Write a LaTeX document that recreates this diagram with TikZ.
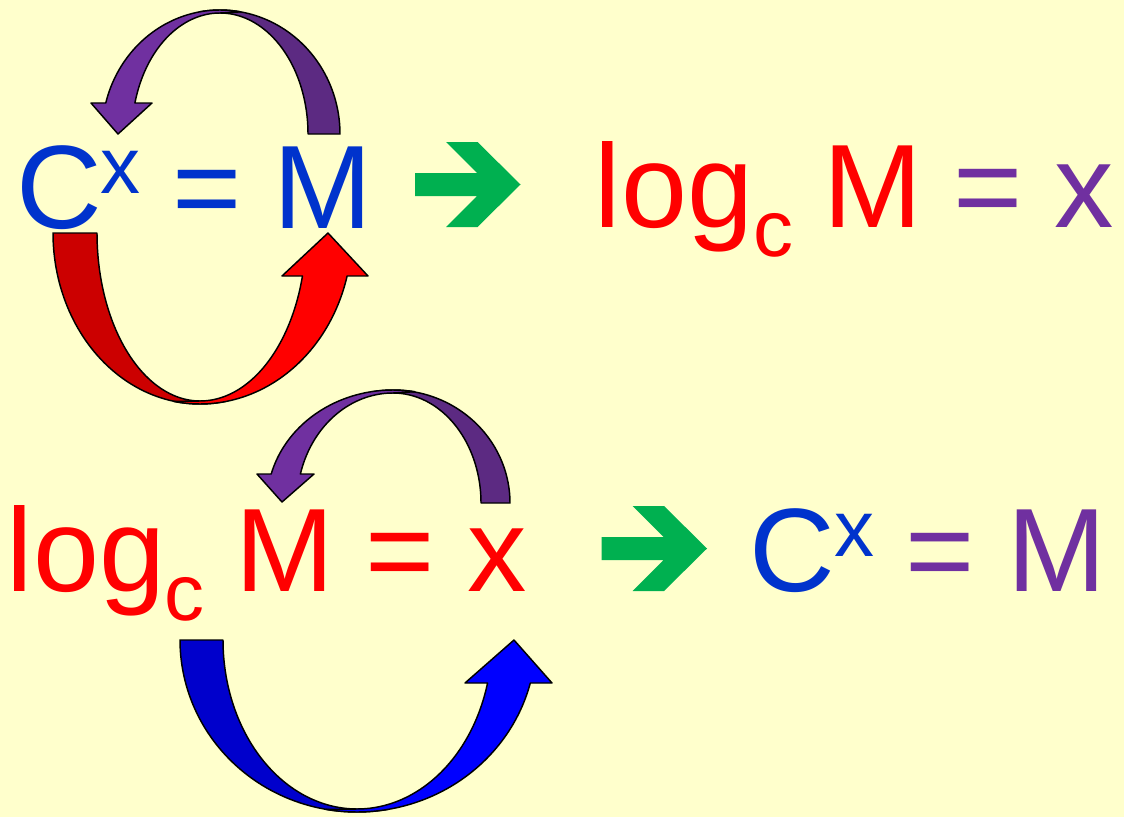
\documentclass[tikz,border=0pt]{standalone}
\usepackage{fontspec}
\setmainfont{Liberation Sans}
\definecolor{bg}{HTML}{FFFFCC}
\definecolor{tblue}{HTML}{0033CC}
\definecolor{tred}{HTML}{FF0000}
\definecolor{tpurple}{HTML}{7030A0}
\definecolor{tgreen}{HTML}{00B050}
\definecolor{purpleL}{HTML}{7030A0}
\definecolor{purpleD}{HTML}{5C2A82}
\definecolor{redD}{HTML}{CC0000}
\definecolor{redL}{HTML}{FF0000}
\definecolor{blueD}{HTML}{0000CC}
\definecolor{blueL}{HTML}{0000FF}
\begin{document}
\begin{tikzpicture}[x=0.75pt,y=-0.75pt,
  big/.style={inner sep=0pt, anchor=base, font=\fontsize{89}{100}\selectfont},
  small/.style={inner sep=0pt, anchor=base, font=\fontsize{60}{70}\selectfont},
  band/.style={draw=black, line width=1.1pt, line join=round},
  garrow/.pic={\fill[tgreen] (0,31) -- (62,31) -- (31,0) -- (62.5,0) -- (105.5,42.5) -- (62.5,85) -- (31,85) -- (62,54) -- (0,54) -- cycle;}]
\fill[bg] (0,0) rectangle (1124,817);
\useasboundingbox (0,0) rectangle (1124,817);

% ---- top row ----
\node[big, text=tblue] (C1) at (59.5,228) {C};
\node[small, text=tblue] (x1) at (120.5,193) {x};
\node[big, text=tblue] (eq1) at (207.5,228) {=};
\node[big, text=tblue] (M1) at (322.5,228) {M};
\pic at (415,142) {garrow};
\node[big, text=tred] (log1) at (674,227) {log};
\node[small, text=tred] (c1) at (773,256) {c};
\node[big, text=tred] (M2) at (872.5,227) {M};
\node[big, text=tpurple] (eq2) at (988.5,227) {=};
\node[big, text=tpurple] (x2) at (1084,227) {x};

% ---- bottom row ----
\node[big, text=tred] (log2) at (86,591) {log};
\node[small, text=tred] (c2) at (184.5,620) {c};
\node[big, text=tred] (M3) at (285,591) {M};
\node[big, text=tred] (eq3) at (400.5,591) {=};
\node[big, text=tred] (x3) at (497.5,591) {x};
\pic at (601.5,506) {garrow};
\node[big, text=tblue] (C2) at (792,591) {C};
\node[small, text=tblue] (x4) at (854.5,556) {x};
\node[big, text=tpurple] (eq4) at (940,591) {=};
\node[big, text=tpurple] (M4) at (1056.5,591) {M};

% ---- top purple curved arrow (M -> C) ----
\filldraw[band, fill=purpleD] plot[samples=60, domain=0:-100] ({220+120*cos(\x)},{134+124*sin(\x)})
  -- plot[samples=60, domain=-90:0] ({220+88*cos(\x)},{134+121*sin(\x)}) -- cycle;
\filldraw[band, fill=purpleL] plot[samples=60, domain=280:194.48] ({220+118*cos(\x)},{134+124*sin(\x)})
  -- (91,103) -- (118,134) -- (152,103)
  -- plot[samples=60, domain=194.84:270] ({220+88*cos(\x)},{134+121*sin(\x)}) -- cycle;

% ---- red curved arrow (C -> M) ----
\filldraw[band, fill=redD] plot[samples=60, domain=180:80] ({200+147*cos(\x)},{233+171*sin(\x)})
  -- plot[samples=60, domain=90:180] ({200+103*cos(\x)},{233+168*sin(\x)}) -- cycle;
\filldraw[band, fill=redL] plot[samples=60, domain=100:14.56] ({200+152*cos(\x)},{233+171*sin(\x)})
  -- (368,276) -- (328,233) -- (282,276)
  -- plot[samples=60, domain=14.83:90] ({200+106*cos(\x)},{233+168*sin(\x)}) -- cycle;

% ---- bottom purple curved arrow (x -> M) ----
\filldraw[band, fill=purpleD] plot[samples=60, domain=0:-100] ({393+117*cos(\x)},{503+113*sin(\x)})
  -- plot[samples=60, domain=-90:0] ({393+88*cos(\x)},{503+110*sin(\x)}) -- cycle;
\filldraw[band, fill=purpleL] plot[samples=60, domain=280:194.87] ({393+126*cos(\x)},{503+113*sin(\x)})
  -- (257,474) -- (282,502) -- (314,474)
  -- plot[samples=60, domain=195.29:270] ({393+96*cos(\x)},{503+110*sin(\x)}) -- cycle;

% ---- blue curved arrow (log -> x) ----
\filldraw[band, fill=blueD] plot[samples=60, domain=180:80] ({357+177*cos(\x)},{640+172*sin(\x)})
  -- plot[samples=60, domain=90:180] ({357+134*cos(\x)},{640+169*sin(\x)}) -- cycle;
\filldraw[band, fill=blueL] plot[samples=60, domain=100:14.48] ({357+179*cos(\x)},{640+172*sin(\x)})
  -- (552,683) -- (514,640) -- (465,683)
  -- plot[samples=60, domain=14.74:90] ({357+135*cos(\x)},{640+169*sin(\x)}) -- cycle;
\end{tikzpicture}
\end{document}
